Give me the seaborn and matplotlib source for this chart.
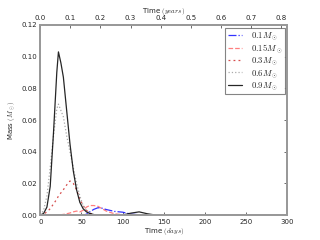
import numpy as np
import pandas as pd
import seaborn as sns
import matplotlib
matplotlib.use('Agg')
import matplotlib.pyplot as plt

# time in days
days = [0, 4, 8, 12, 16, 20, 22, 25, 28, 32, 36, 40, 44, 48, 52, 56, 60, 65,
        70, 75, 80, 90, 100, 110, 120, 130, 140, 150, 200, 250, 300]

m01 = [0, 0, 0, 0, 0, 0, 0, 0, 0, 0, 0, 0, 0, 0, 0, 0.0005, 0.002, 0.0036,
       0.0046, 0.0043, 0.0035, 0.0023, 0.0018, 0.0006, 0.0002, 0, 0, 0, 0, 0, 0]
m015 = [0, 0, 0, 0, 0, 0, 0, 0.0002, 0.0004, 0.0008, 0.0013, 0.002, 0.0025,
        0.002, 0.003, 0.005, 0.006, 0.006, 0.0055, 0.004, 0.0025, 0.0008,
        0.0002, 0, 0, 0, 0, 0, 0, 0, 0]
m03 = [0, 0.0005, 0.002, 0.004, 0.007, 0.010, 0.012, 0.014, 0.016, 0.019,
       0.0215, 0.020, 0.016, 0.010, 0.006, 0.003, 0.0012, 0.0004, 0, 0, 0, 0,
       0, 0, 0, 0, 0, 0, 0, 0, 0]
m06 = [0, 0.003, 0.012, 0.030, 0.050, 0.067, 0.070, 0.066, 0.062, 0.050,
       0.040, 0.030, 0.020, 0.012, 0.006, 0.003, 0.001, 0, 0, 0, 0, 0, 0, 0,
       0, 0, 0, 0, 0, 0, 0]
m09 = [0, 0.001, 0.005, 0.018, 0.052, 0.090, 0.103, 0.096, 0.087, 0.066,
       0.045, 0.028, 0.016, 0.008, 0.004, 0.002, 0.001, 0.0003, 0, 0, 0, 0,
       0, 0.0012, 0.002, 0.0008, 0, 0, 0, 0, 0]

labels = [r'$0.1M_\odot$', r'$0.15M_\odot$', r'$0.3M_\odot$',
          r'$0.6M_\odot$', r'$0.9M_\odot$']
series = [m01, m015, m03, m06, m09]
styles = [dict(color='blue', linestyle='-.', alpha=0.8),
          dict(color='red', linestyle='--', alpha=0.5),
          dict(color='#cc2222', linestyle=(0, (1.5, 2.5)), alpha=0.8),
          dict(color='#aaaaaa', linestyle=':'),
          dict(color='black', linestyle='-', alpha=0.85)]

sns.set_style('white')
plt.rcParams['font.family'] = ['DejaVu Sans']
plt.rcParams['mathtext.fontset'] = 'cm'

fig = plt.figure(figsize=(3.2, 2.4), dpi=100)
ax = fig.add_axes([0.126, 0.104, 0.772, 0.792])

for vals, lab, st in zip(series, labels, styles):
    sns.lineplot(x=days, y=vals, ax=ax, label=lab, linewidth=0.9, **st)

ax.set_xlim(0, 300)
ax.set_ylim(0, 0.12)
ax.set_xticks(np.arange(0, 301, 50))
ax.set_yticks(np.arange(0, 0.121, 0.02))
ax.yaxis.set_major_formatter(matplotlib.ticker.FormatStrFormatter('%.2f'))
ax.set_xlabel(r'Time $(days)$', fontsize=5, labelpad=1)
ax.set_ylabel(r'Mass $(M_\odot)$', fontsize=5, labelpad=3)
ax.tick_params(direction='in', labelsize=5, length=2, width=0.6, pad=2.5,
               top=False, right=True, color='#555555')

ax2 = ax.twiny()
ax2.set_xlim(0, 300 / 365.25)
ax2.set_xticks(np.arange(0, 0.81, 0.1))
ax2.xaxis.set_major_formatter(matplotlib.ticker.FormatStrFormatter('%.1f'))
ax2.set_xlabel(r'Time $(years)$', fontsize=5, labelpad=2)
ax2.tick_params(direction='in', labelsize=5, length=2, width=0.6, pad=2.5,
                color='#555555')

for a in (ax, ax2):
    for sp in a.spines.values():
        sp.set_color('#999999')
        sp.set_linewidth(1.3)

leg = ax.legend(loc='upper right', fontsize=6.3, handlelength=1.6,
                frameon=True, fancybox=False, borderpad=0.3,
                labelspacing=0.02, handletextpad=1.0,
                borderaxespad=0.3)
leg.get_frame().set_edgecolor('#666666')
leg.get_frame().set_linewidth(0.8)

fig.savefig('out.png', dpi=100)
